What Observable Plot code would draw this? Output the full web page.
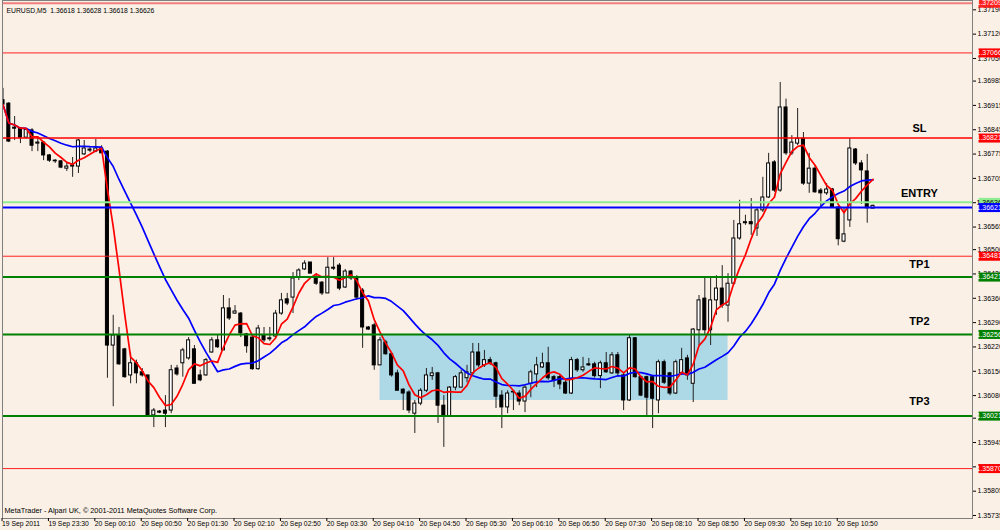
<!DOCTYPE html>
<html><head><meta charset="utf-8">
<script src="https://cdn.jsdelivr.net/npm/d3@7"></script>
<script src="https://cdn.jsdelivr.net/npm/@observablehq/plot@0.6"></script>
<style>
html,body{margin:0;padding:0;background:#faf0e6;overflow:hidden;}
#chart svg{display:block;}
</style></head><body><div id="chart"></div>
<script>
// EURUSD M5 bars, bar 0 = 19 Sep 22:50, one bar every 5 minutes
const opens = [1.36930,1.36920,1.36851,1.36848,1.36822,1.36843,1.36805,1.36808,1.36771,1.36756,
1.36754,1.36733,1.36739,1.36739,1.36774,1.36788,1.36782,1.36791,1.36782,1.36224,
1.36253,1.36213,1.36138,1.36173,1.36147,1.36138,1.36023,1.36034,1.36037,1.36037,
1.36158,1.36173,1.36187,1.36213,1.36138,1.36138,1.36204,1.36239,1.36210,1.36331,
1.36316,1.36316,1.36256,1.36247,1.36156,1.36253,1.36242,1.36250,1.36316,1.36357,
1.36362,1.36420,1.36443,1.36463,1.36420,1.36405,1.36374,1.36445,1.36454,1.36391,
1.36437,1.36420,1.36382,1.36276,1.36282,1.36167,1.36233,1.36199,1.36144,1.36097,
1.36089,1.36028,1.36057,1.36094,1.36136,1.36144,1.36051,1.36020,1.36103,1.36103,
1.36130,1.36144,1.36204,1.36167,1.36182,1.36173,1.36080,1.36046,1.36089,1.36086,
1.36063,1.36114,1.36141,1.36161,1.36173,1.36133,1.36133,1.36117,1.36086,1.36182,
1.36153,1.36170,1.36170,1.36136,1.36173,1.36144,1.36196,1.36138,1.36066,1.36245,
1.36133,1.36133,1.36133,1.36066,1.36176,1.36144,1.36086,1.36144,1.36187,1.36114,
1.36268,1.36359,1.36268,1.36354,1.36388,1.36339,1.36402,1.36532,1.36576,1.36579,
1.36561,1.36613,1.36650,1.36751,1.36670,1.36909,1.36777,1.36805,1.36819,1.36690,
1.36733,1.36670,1.36662,1.36673,1.36621,1.36523,1.36584,1.36788,1.36748,1.36725,
1.36618];
const highs = [1.36964,1.36923,1.36883,1.36851,1.36848,1.36848,1.36825,1.36811,1.36774,1.36759,
1.36756,1.36748,1.36765,1.36817,1.36814,1.36794,1.36817,1.36799,1.36785,1.36311,
1.36276,1.36216,1.36202,1.36182,1.36158,1.36138,1.36043,1.36037,1.36080,1.36167,
1.36167,1.36216,1.36247,1.36224,1.36153,1.36187,1.36247,1.36253,1.36368,1.36359,
1.36339,1.36319,1.36259,1.36253,1.36282,1.36276,1.36276,1.36325,1.36374,1.36374,
1.36434,1.36445,1.36468,1.36463,1.36431,1.36408,1.36477,1.36477,1.36460,1.36443,
1.36440,1.36425,1.36388,1.36279,1.36288,1.36247,1.36239,1.36202,1.36153,1.36100,
1.36094,1.36066,1.36100,1.36158,1.36161,1.36147,1.36080,1.36106,1.36138,1.36153,
1.36167,1.36230,1.36230,1.36210,1.36190,1.36176,1.36094,1.36094,1.36094,1.36094,
1.36112,1.36153,1.36190,1.36202,1.36219,1.36138,1.36138,1.36124,1.36190,1.36187,
1.36190,1.36187,1.36176,1.36179,1.36204,1.36204,1.36204,1.36144,1.36253,1.36247,
1.36136,1.36136,1.36136,1.36182,1.36182,1.36147,1.36182,1.36216,1.36196,1.36273,
1.36368,1.36417,1.36420,1.36425,1.36454,1.36431,1.36584,1.36642,1.36599,1.36647,
1.36621,1.36708,1.36777,1.36756,1.36981,1.36933,1.36828,1.36906,1.36837,1.36777,
1.36742,1.36676,1.36690,1.36676,1.36624,1.36619,1.36819,1.36791,1.36756,1.36774,
1.36628];
const lows = [1.36911,1.36808,1.36814,1.36805,1.36819,1.36782,1.36782,1.36756,1.36751,1.36748,
1.36733,1.36725,1.36708,1.36719,1.36771,1.36779,1.36779,1.36777,1.36130,1.36048,
1.36167,1.36130,1.36114,1.36114,1.36133,1.36023,1.35988,1.36028,1.35988,1.36028,
1.36136,1.36133,1.36182,1.36114,1.36120,1.36136,1.36202,1.36216,1.36210,1.36296,
1.36314,1.36247,1.36202,1.36153,1.36153,1.36233,1.36236,1.36245,1.36311,1.36339,
1.36316,1.36411,1.36440,1.36431,1.36397,1.36368,1.36374,1.36440,1.36382,1.36388,
1.36411,1.36354,1.36216,1.36268,1.36153,1.36167,1.36196,1.36133,1.36094,1.36037,
1.36028,1.35971,1.36051,1.36089,1.36124,1.36000,1.35931,1.36020,1.36094,1.36103,
1.36117,1.36138,1.36161,1.36161,1.36167,1.36043,1.35985,1.36028,1.36037,1.36051,
1.36031,1.36074,1.36103,1.36158,1.36124,1.36103,1.36097,1.36083,1.36083,1.36147,
1.36147,1.36164,1.36130,1.36100,1.36144,1.36141,1.36133,1.36037,1.36063,1.36130,
1.36077,1.36017,1.35985,1.36028,1.36112,1.36080,1.36083,1.36138,1.36124,1.36060,
1.36224,1.36253,1.36224,1.36311,1.36331,1.36291,1.36397,1.36527,1.36570,1.36541,
1.36538,1.36607,1.36647,1.36665,1.36665,1.36771,1.36771,1.36799,1.36685,1.36662,
1.36662,1.36621,1.36656,1.36619,1.36511,1.36520,1.36564,1.36742,1.36630,1.36576,
1.36618];
const closes = [1.36917,1.36811,1.36848,1.36822,1.36845,1.36799,1.36808,1.36771,1.36756,1.36754,
1.36736,1.36739,1.36742,1.36814,1.36791,1.36785,1.36791,1.36777,1.36224,1.36253,
1.36170,1.36133,1.36173,1.36144,1.36138,1.36023,1.36037,1.36031,1.36028,1.36153,
1.36141,1.36210,1.36239,1.36114,1.36124,1.36182,1.36239,1.36219,1.36331,1.36302,
1.36322,1.36259,1.36222,1.36156,1.36273,1.36239,1.36245,1.36316,1.36354,1.36345,
1.36417,1.36440,1.36460,1.36431,1.36402,1.36374,1.36448,1.36448,1.36388,1.36437,
1.36417,1.36362,1.36276,1.36270,1.36167,1.36239,1.36199,1.36138,1.36094,1.36086,
1.36037,1.36057,1.36094,1.36138,1.36144,1.36051,1.36020,1.36103,1.36133,1.36144,
1.36147,1.36204,1.36167,1.36182,1.36173,1.36077,1.36046,1.36086,1.36091,1.36063,
1.36103,1.36147,1.36167,1.36173,1.36130,1.36124,1.36112,1.36086,1.36182,1.36153,
1.36161,1.36167,1.36136,1.36173,1.36147,1.36196,1.36144,1.36066,1.36245,1.36133,
1.36080,1.36074,1.36071,1.36176,1.36117,1.36086,1.36176,1.36182,1.36138,1.36270,
1.36354,1.36268,1.36354,1.36388,1.36339,1.36402,1.36532,1.36573,1.36579,1.36573,
1.36613,1.36650,1.36748,1.36670,1.36909,1.36777,1.36808,1.36819,1.36690,1.36733,
1.36665,1.36662,1.36673,1.36621,1.36530,1.36544,1.36791,1.36748,1.36728,1.36619,
1.36626];

const xTickBars = [0,8,16,24,32,40,48,56,64,72,80,88,96,104,112,120,128,136,144];
const xTickLabels = ["19 Sep 2011","19 Sep 23:30","20 Sep 00:10","20 Sep 00:50","20 Sep 01:30",
  "20 Sep 02:10","20 Sep 02:50","20 Sep 03:30","20 Sep 04:10","20 Sep 04:50","20 Sep 05:30",
  "20 Sep 06:10","20 Sep 06:50","20 Sep 07:30","20 Sep 08:10","20 Sep 08:50","20 Sep 09:30",
  "20 Sep 10:10","20 Sep 10:50"];
const yTickValues = [1.37190,1.37120,1.37050,1.36985,1.36915,1.36845,1.36775,1.36705,1.36635,
  1.36565,1.36500,1.36430,1.36360,1.36290,1.36220,1.36150,1.36080,1.36015,1.35945,1.35875,
  1.35805,1.35735];

const levelPrices = [1.37209,1.37066,1.36821,1.36481,1.35870,1.36421,1.36256,1.36021,1.36636,1.36621];
const levelKinds  = ["top","red","sl","red","red","green","green","green","ask","blue"];

const annotationLabels = ["SL","ENTRY","TP1","TP2","TP3"];
const annotationPrices = [1.36848,1.36661,1.36457,1.36293,1.36063];
const annotationBar = 158;

const zoneBars = [65,125];
const zonePrices = [1.36066,1.36256];

const headerText = "EURUSD,M5  1.36618 1.36628 1.36618 1.36626";
const footerText = "MetaTrader - Alpari UK, \u00a9 2001-2011 MetaQuotes Software Corp.";

// ---- derived tables ----
const candles = opens.map((o, i) => ({i, open: o, high: highs[i], low: lows[i], close: closes[i]}));
const kindStyle = {
  top:   {stroke: "#f07f7f", width: 2, box: "#ff2020", text: "#ffffff"},
  red:   {stroke: "#ff2020", width: 1, box: "#ff0000", text: "#ffffff"},
  sl:    {stroke: "#ff0000", width: 1.6, box: "#ff0000", text: "#ffffff"},
  green: {stroke: "#008000", width: 2, box: "#008000", text: "#ffffff"},
  ask:   {stroke: "#90ee90", width: 2, box: "#90ee90", text: "#000000"},
  blue:  {stroke: "#0000ff", width: 2, box: "#0000ff", text: "#ffffff"}
};
const levels = levelPrices.map((p, k) => ({price: p, ...kindStyle[levelKinds[k]]}));
const annotations = annotationLabels.map((t, k) => ({label: t, price: annotationPrices[k]}));
const zone = [{x1: zoneBars[0], x2: zoneBars[1], y1: zonePrices[0], y2: zonePrices[1]}];

function withBoxes(index, scales, values, dimensions, context, next) {
  const g = next(index, scales, values, dimensions, context);
  const texts = Array.from(g.querySelectorAll("text"));
  const x0 = dimensions.width - dimensions.marginRight + 2;
  const ns = "http://www.w3.org/2000/svg";
  texts.forEach((t, k) => {
    const i = index[k];
    const r = context.document.createElementNS(ns, "rect");
    r.setAttribute("x", x0);
    r.setAttribute("y", values.y[i] - 4.5);
    r.setAttribute("width", dimensions.marginRight);
    r.setAttribute("height", 9);
    r.setAttribute("fill", levels[i].box);
    g.insertBefore(r, t);
  });
  return g;
}

const chart = Plot.plot({
  width: 1000,
  height: 530,
  marginTop: 0,
  marginBottom: 12,
  marginLeft: 2,
  marginRight: 28,
  style: {background: "#faf0e6", fontFamily: "'Liberation Sans', Arial, sans-serif", fontSize: "7px", color: "#000"},
  x: {type: "linear", domain: [-0.09, 167.15], axis: null},
  y: {domain: [1.357264, 1.372168], axis: null},
  marks: [
    Plot.rect(zone, {x1: "x1", x2: "x2", y1: "y1", y2: "y2", fill: "#add8e6"}),
    Plot.ruleX(candles, {x: "i", y1: "low", y2: "high", stroke: "#222", strokeWidth: 1, clip: true}),
    Plot.rect(candles, {x1: d => d.i - 0.26, x2: d => d.i + 0.26, y1: "open", y2: "close",
      fill: d => d.close >= d.open ? "#ffffff" : "#000000", stroke: "#000", strokeWidth: 1, clip: true}),
    Plot.lineY(candles, Plot.windowY({k: 20, anchor: "end", strict: false}, {x: "i", y: "close", stroke: "#0000ff", strokeWidth: 1.7})),
    Plot.lineY(candles, Plot.windowY({k: 5, anchor: "end", strict: false}, {x: "i", y: "close", stroke: "#ff0000", strokeWidth: 1.7})),
    Plot.ruleY(levels, {y: "price", stroke: "stroke", strokeWidth: "width"}),
    Plot.text(annotations, {x: () => annotationBar, y: "price", text: "label", fontWeight: "bold", fontSize: 11, fill: "#000",
      fontFamily: "'Liberation Sans', Arial, sans-serif"}),
    Plot.text([headerText], {text: d => d, frameAnchor: "top-left", dx: 4, dy: 7.5, textAnchor: "start", fontSize: 6.8, fill: "#000"}),
    Plot.text([footerText], {text: d => d, frameAnchor: "bottom-left", dx: 2, dy: -6, textAnchor: "start", fontSize: 7.3, fill: "#000"}),
    Plot.frame({stroke: "#7f7f7f"}),
    Plot.axisY(yTickValues, {anchor: "right", tickSize: 3, tickPadding: 2, tickFormat: d => d.toFixed(5), fontSize: 7, color: "#000"}),
    Plot.axisX(xTickBars, {anchor: "bottom", tickSize: 3, tickPadding: 0, textAnchor: "start", dx: -1,
      tickFormat: d => xTickLabels[xTickBars.indexOf(d)], fontSize: 6.8, color: "#000"}),
    Plot.text(levels, {y: "price", frameAnchor: "right", dx: 4, textAnchor: "start", text: d => d.price.toFixed(5),
      fill: "text", fontSize: 7, render: withBoxes})
  ]
});
document.getElementById("chart").appendChild(chart);
</script>
</body></html>
